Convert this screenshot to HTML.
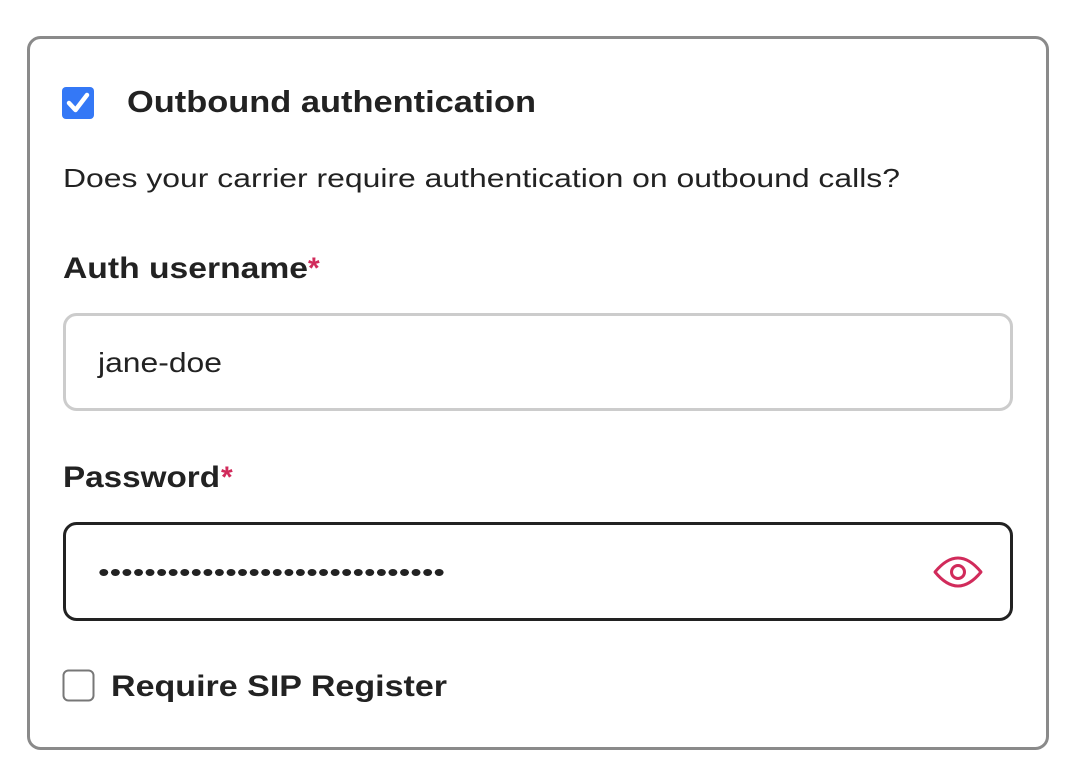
<!DOCTYPE html>
<html><head><meta charset="utf-8"><style>
html,body{margin:0;padding:0;background:#fff;}
svg{display:block;}
text{font-family:"Liberation Sans",sans-serif;fill:#222;}
</style></head><body>
<svg width="1084" height="784" viewBox="0 0 1084 784" xmlns="http://www.w3.org/2000/svg">
<rect x="28.5" y="37.5" width="1019" height="711" rx="12" fill="#fff" stroke="#8a8a8a" stroke-width="3"/>
<rect x="62" y="87" width="32" height="32" rx="4" fill="#3478f6"/>
<path d="M69 103 L75.5 110 L87 95" fill="none" stroke="#fff" stroke-width="4.5" stroke-linecap="round" stroke-linejoin="round"/>
<text x="127" y="112" font-size="31" font-weight="bold" textLength="409" lengthAdjust="spacingAndGlyphs">Outbound authentication</text>
<text x="63" y="187" font-size="26" textLength="837" lengthAdjust="spacingAndGlyphs">Does your carrier require authentication on outbound calls?</text>
<text x="63" y="278" font-size="30" font-weight="bold" textLength="245" lengthAdjust="spacingAndGlyphs">Auth username</text>
<text x="308" y="278" font-size="30" font-weight="bold" style="fill:#d12b5b">*</text>
<rect x="64.5" y="314.5" width="947" height="95" rx="12" fill="#fff" stroke="#cccccc" stroke-width="3"/>
<text x="98" y="372" font-size="28" textLength="124" lengthAdjust="spacingAndGlyphs">jane-doe</text>
<text x="63" y="487" font-size="30" font-weight="bold" textLength="157" lengthAdjust="spacingAndGlyphs">Password</text>
<text x="221" y="487" font-size="30" font-weight="bold" style="fill:#d12b5b">*</text>
<rect x="64.5" y="523.5" width="947" height="96" rx="12" fill="#fff" stroke="#222" stroke-width="3"/>
<text x="98" y="581" font-size="26" textLength="347" lengthAdjust="spacingAndGlyphs">••••••••••••••••••••••••••••••</text>
<path d="M935 572 Q958 544 981 572 Q958 600 935 572 Z" fill="none" stroke="#d12b5b" stroke-width="3" stroke-linejoin="round"/>
<circle cx="958" cy="572" r="6.5" fill="none" stroke="#d12b5b" stroke-width="3"/>
<rect x="63.5" y="670.5" width="30" height="30" rx="5" fill="#fff" stroke="#777" stroke-width="2"/>
<text x="111" y="696" font-size="30" font-weight="bold" textLength="336" lengthAdjust="spacingAndGlyphs">Require SIP Register</text>
</svg>
</body></html>
